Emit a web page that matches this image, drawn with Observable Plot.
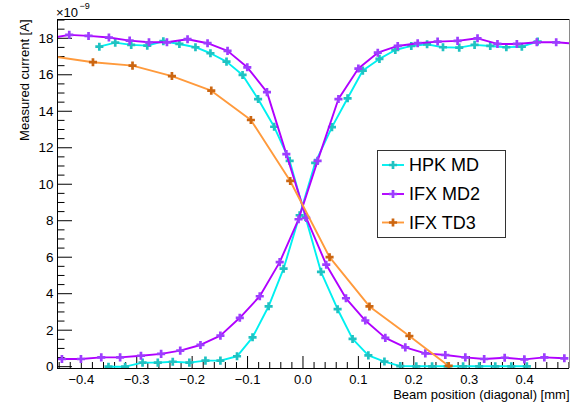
<!DOCTYPE html>
<html>
<head>
<meta charset="utf-8">
<script src="https://cdn.jsdelivr.net/npm/d3@7"></script>
<script src="https://cdn.jsdelivr.net/npm/@observablehq/plot@0.6"></script>
<style>
  html, body { margin: 0; padding: 0; background: white; }
  #chart { width: 575px; height: 405px; }
</style>
</head>
<body>
<div id="chart"></div>
<script>
// ---- data ----
const hpkFallX = [-0.3675, -0.3388, -0.310, -0.281, -0.252, -0.223, -0.194, -0.167, -0.138, -0.109, -0.081, -0.052, -0.024, 0.0045, 0.0325, 0.0625, 0.0895, 0.118, 0.147, 0.1756, 0.2045, 0.233, 0.261, 0.289, 0.318, 0.347, 0.376, 0.404];
const hpkFallY = [17.54, 17.76, 17.64, 17.60, 17.84, 17.69, 17.51, 17.18, 16.72, 15.99, 14.67, 13.15, 11.28, 8.20, 5.20, 3.15, 1.52, 0.62, 0.28, 0.03, 0.02, 0.02, 0.02, 0.02, 0.02, 0.02, 0.02, 0.02];

const hpkRiseX = [-0.351, -0.321, -0.2895, -0.262, -0.235, -0.205, -0.176, -0.149, -0.119, -0.091, -0.062, -0.035, -0.006, 0.022, 0.0523, 0.0805, 0.108, 0.138, 0.1666, 0.1955, 0.224, 0.2527, 0.282, 0.3097, 0.338, 0.367, 0.395, 0.4235];
const hpkRiseY = [0.0, 0.0, 0.22, 0.22, 0.27, 0.22, 0.33, 0.33, 0.57, 1.61, 3.31, 5.37, 8.30, 11.17, 13.13, 14.71, 16.23, 16.87, 17.36, 17.58, 17.67, 17.51, 17.49, 17.64, 17.58, 17.51, 17.54, 17.82];

const md2FallX = [-0.457, -0.4218, -0.387, -0.3502, -0.3128, -0.2779, -0.2455, -0.2083, -0.1722, -0.1361, -0.1005, -0.065, -0.030, 0.006, 0.042, 0.0776, 0.1125, 0.1486, 0.1847, 0.2208, 0.2569, 0.293, 0.327, 0.364, 0.3995, 0.4356, 0.4717];
const md2FallY = [18.0, 18.19, 18.13, 18.04, 17.87, 17.78, 17.78, 17.95, 17.73, 17.31, 16.41, 15.05, 11.65, 8.15, 5.59, 3.75, 2.53, 1.58, 1.06, 0.73, 0.64, 0.51, 0.42, 0.49, 0.40, 0.51, 0.46];

const md2RiseX = [-0.435, -0.4007, -0.364, -0.330, -0.2924, -0.256, -0.2215, -0.185, -0.149, -0.114, -0.078, -0.042, -0.008, 0.0264, 0.064, 0.100, 0.135, 0.171, 0.207, 0.243, 0.279, 0.315, 0.351, 0.386, 0.422, 0.457, 0.493];
const md2RiseY = [0.42, 0.42, 0.51, 0.51, 0.60, 0.70, 0.88, 1.19, 1.70, 2.68, 3.86, 5.73, 8.08, 11.28, 14.67, 16.34, 17.21, 17.58, 17.73, 17.82, 17.86, 18.0, 17.69, 17.69, 17.78, 17.78, 17.70];

const td3X = [-0.45, -0.379, -0.3076, -0.2365, -0.1655, -0.094, -0.023, 0.048, 0.120, 0.192, 0.263];
const td3Y = [17.0, 16.69, 16.50, 15.93, 15.13, 13.52, 10.18, 6.0, 3.30, 1.68, 0.04];

const seriesNames = ["HPK MD", "IFX MD2", "IFX TD3"];
const lineColors = ["#00f0f0", "#b000ff", "#ff9a3c"];
const markerColors = ["#1fc2c2", "#9d3dff", "#cc6611"];

const xTicks = [-0.4, -0.3, -0.2, -0.1, 0, 0.1, 0.2, 0.3, 0.4];
const yTicks = [0, 2, 4, 6, 8, 10, 12, 14, 16, 18];
const xTitle = "Beam position (diagonal) [mm]";
const yTitle = "Measured current [A]";

// ---- build tables ----
function rows(xs, ys, series, trace) {
  return xs.map((x, i) => ({x, y: ys[i], series, trace}));
}
const traces = [
  rows(hpkFallX, hpkFallY, 0, "hpkA"),
  rows(hpkRiseX, hpkRiseY, 0, "hpkB"),
  rows(md2FallX, md2FallY, 1, "md2A"),
  rows(md2RiseX, md2RiseY, 1, "md2B"),
  rows(td3X, td3Y, 2, "td3")
];

const W = 575, H = 405;
const mL = 57, mR = 6, mT = 19, mB = 37;
const innerW = W - mL - mR, innerH = H - mT - mB;
const xDomain = [-0.443, 0.481];
const yDomain = [-0.1, 19.03];
const markR = 3.4;

const xMinor = d3.range(-0.44, 0.4801, 0.02).map(v => +v.toFixed(2)).filter(v => !xTicks.some(t => Math.abs(t - v) < 1e-9));
const yMinor = d3.range(0, 19.01, 0.5).filter(v => !yTicks.includes(v));

const marks = [];
traces.forEach(t => {
  const s = t[0].series;
  marks.push(Plot.line(t, {x: "x", y: "y", stroke: lineColors[s], strokeWidth: 1.9, clip: true}));
  marks.push(Plot.dot(t, {x: "x", y: "y", symbol: "cross", r: markR, fill: markerColors[s], stroke: "none", clip: true}));
});

const plot = Plot.plot({
  width: W, height: H,
  marginLeft: mL, marginRight: mR, marginTop: mT, marginBottom: mB,
  style: {fontFamily: "'Liberation Sans', Arial, Helvetica, sans-serif", fontSize: "13px", background: "white", color: "black"},
  x: {domain: xDomain, label: null},
  y: {domain: yDomain, label: null},
  marks: [
    // ticks inside the frame (ROOT style)
    Plot.tickX(xMinor, {x: d => d, insetTop: innerH - 6, stroke: "black"}),
    Plot.tickX(xTicks, {x: d => d, insetTop: innerH - 12, stroke: "black"}),
    Plot.tickY(yMinor, {y: d => d, insetRight: innerW - 7.5, stroke: "black"}),
    Plot.tickY(yTicks, {y: d => d, insetRight: innerW - 15, stroke: "black"}),
    ...marks,
    // frame
    Plot.ruleY([yDomain[1]], {stroke: "black"}),
    Plot.ruleX([xDomain[1]], {stroke: "#8a8a8a"}),
    Plot.ruleY([yDomain[0]], {stroke: "black"}),
    Plot.ruleX([xDomain[0]], {stroke: "black"}),
    Plot.axisX({ticks: xTicks, tickSize: 0, tickPadding: 6, fontSize: 13, label: null}),
    Plot.axisY({ticks: yTicks, tickSize: 0, tickPadding: 4, fontSize: 13.5, label: null}),
    Plot.text([xTitle], {frameAnchor: "bottom-right", textAnchor: "end", lineAnchor: "bottom", dy: 30.5, dx: 0, fontSize: 13}),
    Plot.text([yTitle], {frameAnchor: "top-left", textAnchor: "end", rotate: -90, dx: -37.5, dy: 0, fontSize: 13}),
    Plot.text(["×10"], {frameAnchor: "top-left", textAnchor: "start", lineAnchor: "bottom", dx: -1.5, dy: -2.5, fontSize: 13}),
    Plot.text(["−9"], {frameAnchor: "top-left", textAnchor: "start", lineAnchor: "bottom", dx: 22, dy: -10.5, fontSize: 9})
  ]
});

// ---- legend box drawn inside the plot ----
const svg = d3.select(plot);
const lg = svg.append("g")
  .attr("font-family", "'Liberation Sans', Arial, Helvetica, sans-serif")
  .attr("text-anchor", "start");
lg.append("rect").attr("x", 377.5).attr("y", 150.5).attr("width", 128).attr("height", 87)
  .attr("fill", "white").attr("stroke", "#333").attr("stroke-width", 1);
const legendY = [165, 194, 222.5];
const sym = d3.symbol(d3.symbolCross, Math.PI * markR * markR);
seriesNames.forEach((name, i) => {
  const y = legendY[i];
  lg.append("line").attr("x1", 382).attr("x2", 404).attr("y1", y).attr("y2", y)
    .attr("stroke", lineColors[i]).attr("stroke-width", 1.9);
  lg.append("path").attr("d", sym()).attr("transform", `translate(393,${y})`).attr("fill", markerColors[i]);
  lg.append("text").attr("x", 409).attr("y", y).attr("dy", "0.35em").attr("font-size", 18)
    .attr("text-anchor", "start").attr("fill", "black").text(name);
});

document.getElementById("chart").appendChild(plot);
</script>
</body>
</html>
